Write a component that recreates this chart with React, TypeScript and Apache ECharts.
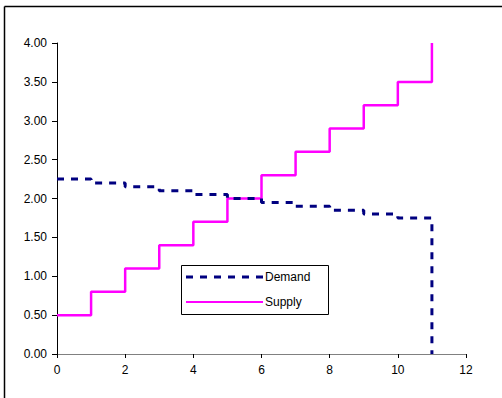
import React, { useEffect, useRef } from "react";
import * as echarts from "echarts";

const quantities = [0, 1, 2, 3, 4, 5, 6, 7, 8, 9, 10, 11];
const demandPrices = [2.25, 2.2, 2.15, 2.1, 2.05, 2.0, 1.95, 1.9, 1.85, 1.8, 1.75, 1.75];
const supplyPrices = [0.5, 0.8, 1.1, 1.4, 1.7, 2.0, 2.3, 2.6, 2.9, 3.2, 3.5, 3.5];
const demandEnd = 0;
const supplyEnd = 4.0;
const xTicks = [0, 2, 4, 6, 8, 10, 12];
const yTicks = [0, 0.5, 1, 1.5, 2, 2.5, 3, 3.5, 4];

export default function App() {
  const ref = useRef<HTMLDivElement>(null);
  useEffect(() => {
    if (!ref.current) return;
    const chart = echarts.init(ref.current, null, { renderer: "svg" });
    const demandData = quantities.map((q, i) => [q, demandPrices[i]]);
    demandData.push([quantities[quantities.length - 1], demandEnd]);
    const supplyData = quantities.map((q, i) => [q, supplyPrices[i]]);
    supplyData.push([quantities[quantities.length - 1], supplyEnd]);
    const font = "Liberation Sans, Arial, sans-serif";
    chart.setOption({
      animation: false,
      backgroundColor: "#ffffff",
      grid: { left: 57, top: 43, right: 36, bottom: 44, containLabel: false },
      xAxis: {
        type: "value",
        min: xTicks[0],
        max: xTicks[xTicks.length - 1],
        interval: 2,
        axisLine: { show: true, lineStyle: { color: "#808080", width: 1 } },
        axisTick: { show: true, inside: false, length: 4, lineStyle: { color: "#000000" } },
        axisLabel: { color: "#000", fontFamily: font, fontSize: 12, margin: 10 },
        splitLine: { show: false },
      },
      yAxis: {
        type: "value",
        min: yTicks[0],
        max: yTicks[yTicks.length - 1],
        interval: 0.5,
        axisLine: { show: true, lineStyle: { color: "#000000", width: 1 } },
        axisTick: { show: true, inside: false, length: 5, lineStyle: { color: "#000000" } },
        axisLabel: {
          color: "#000",
          fontFamily: font,
          fontSize: 12,
          margin: 10,
          formatter: (v: number) => v.toFixed(2),
        },
        splitLine: { show: false },
      },
      legend: { show: false },
      graphic: [
        {
          type: "line",
          shape: { x1: 4.5, y1: 6.5, x2: 502, y2: 6.5 },
          style: { stroke: "#000", lineWidth: 1.5 },
          silent: true,
        },
        {
          type: "line",
          shape: { x1: 4.5, y1: 6.5, x2: 4.5, y2: 398 },
          style: { stroke: "#000", lineWidth: 1.5 },
          silent: true,
        },
        {
          type: "rect",
          shape: { x: 181.5, y: 265.5, width: 147, height: 49 },
          style: { fill: "#fff", stroke: "#000", lineWidth: 1 },
          z: 100,
        },
        {
          type: "line",
          shape: { x1: 186, y1: 277, x2: 263, y2: 277 },
          style: { stroke: "#000080", lineWidth: 3, lineDash: [7, 7] },
          z: 101,
        },
        {
          type: "line",
          shape: { x1: 186, y1: 302, x2: 263, y2: 302 },
          style: { stroke: "#ff00ff", lineWidth: 2 },
          z: 101,
        },
        {
          type: "text",
          x: 265,
          y: 277,
          style: { text: "Demand", fill: "#000", font: "12px " + font, textVerticalAlign: "middle", textAlign: "left" },
          z: 101,
        },
        {
          type: "text",
          x: 265,
          y: 302,
          style: { text: "Supply", fill: "#000", font: "12px " + font, textVerticalAlign: "middle", textAlign: "left" },
          z: 101,
        },
      ],
      series: [
        {
          name: "Demand",
          type: "line",
          step: "end",
          data: demandData,
          showSymbol: false,
          symbol: "none",
          lineStyle: { color: "#000080", width: 3, type: [7, 7] },
          itemStyle: { color: "#000080" },
          z: 3,
        },
        {
          name: "Supply",
          type: "line",
          step: "end",
          data: supplyData,
          showSymbol: false,
          symbol: "none",
          lineStyle: { color: "#ff00ff", width: 2.5 },
          itemStyle: { color: "#ff00ff" },
          z: 2,
        },
      ],
    });
    return () => chart.dispose();
  }, []);
  return (
    <div
      ref={ref}
      style={{ position: "fixed", left: 0, top: 0, width: 502, height: 398, background: "#fff" }}
    />
  );
}
